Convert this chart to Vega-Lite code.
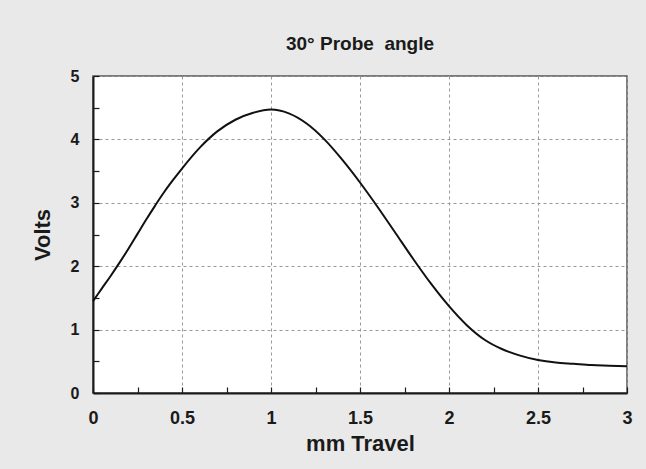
{
  "$schema": "https://vega.github.io/schema/vega-lite/v6.json",
  "autosize": "none",
  "width": 534,
  "height": 317,
  "padding": {"left": 93, "top": 76, "right": 19, "bottom": 76},
  "background": "#e8e9e8",
  "title": {
    "text": "30° Probe\u00a0\u00a0angle",
    "font": "Liberation Sans",
    "fontSize": 19,
    "fontWeight": "bold",
    "color": "#1a1a1a",
    "anchor": "middle",
    "offset": 14
  },
  "config": {
    "view": {"fill": "white", "stroke": "#555555", "strokeWidth": 1.5},
    "axis": {
      "labelFont": "Liberation Sans",
      "titleFont": "Liberation Sans",
      "labelFontWeight": "bold",
      "titleFontWeight": "bold",
      "labelColor": "#1a1a1a",
      "titleColor": "#1a1a1a",
      "domainColor": "#1a1a1a",
      "domainWidth": 2,
      "tickColor": "#1a1a1a",
      "tickWidth": 1.2,
      "gridColor": "#999999",
      "gridDash": [3, 3],
      "gridWidth": 1
    }
  },
  "data": {
    "values": [
      {"x": 0, "v": 1.45},
      {"x": 0.05, "v": 1.65},
      {"x": 0.1, "v": 1.85},
      {"x": 0.15, "v": 2.06},
      {"x": 0.2, "v": 2.28},
      {"x": 0.25, "v": 2.51},
      {"x": 0.3, "v": 2.74},
      {"x": 0.35, "v": 2.96},
      {"x": 0.4, "v": 3.17},
      {"x": 0.45, "v": 3.36},
      {"x": 0.5, "v": 3.54},
      {"x": 0.6, "v": 3.87},
      {"x": 0.7, "v": 4.13},
      {"x": 0.8, "v": 4.31},
      {"x": 0.9, "v": 4.42},
      {"x": 1.0, "v": 4.47},
      {"x": 1.1, "v": 4.41},
      {"x": 1.2, "v": 4.25},
      {"x": 1.3, "v": 4.0},
      {"x": 1.4, "v": 3.68},
      {"x": 1.5, "v": 3.32},
      {"x": 1.6, "v": 2.93},
      {"x": 1.7, "v": 2.52},
      {"x": 1.8, "v": 2.11},
      {"x": 1.9, "v": 1.72},
      {"x": 2.0, "v": 1.37},
      {"x": 2.1, "v": 1.07},
      {"x": 2.2, "v": 0.84},
      {"x": 2.3, "v": 0.69},
      {"x": 2.4, "v": 0.59},
      {"x": 2.5, "v": 0.52},
      {"x": 2.6, "v": 0.48},
      {"x": 2.7, "v": 0.46},
      {"x": 2.8, "v": 0.44},
      {"x": 2.9, "v": 0.43},
      {"x": 3.0, "v": 0.42}
    ]
  },
  "mark": {"type": "line", "color": "#111111", "strokeWidth": 2, "interpolate": "monotone"},
  "encoding": {
    "x": {
      "field": "x",
      "type": "quantitative",
      "scale": {"domain": [0, 3], "nice": false},
      "axis": {
        "title": "mm Travel",
        "titleFontSize": 22,
        "titlePadding": 6,
        "labelFontSize": 18,
        "values": [0, 0.25, 0.5, 0.75, 1, 1.25, 1.5, 1.75, 2, 2.25, 2.5, 2.75, 3],
        "labelExpr": "datum.value % 0.5 === 0 ? format(datum.value, '~g') : ''",
        "tickSize": -6,
        "labelPadding": 22,
        "labelFlush": false,
        "labelOverlap": false,
        "gridOpacity": {"condition": {"test": "datum.value % 0.5 === 0", "value": 1}, "value": 0}
      }
    },
    "y": {
      "field": "v",
      "type": "quantitative",
      "scale": {"domain": [0, 5], "nice": false},
      "axis": {
        "title": "Volts",
        "titleFontSize": 22,
        "titlePadding": 16,
        "labelFontSize": 16,
        "values": [0, 0.5, 1, 1.5, 2, 2.5, 3, 3.5, 4, 4.5, 5],
        "labelExpr": "datum.value % 1 === 0 ? format(datum.value, 'd') : ''",
        "tickSize": -6,
        "labelPadding": 20,
        "labelFlush": false,
        "labelOverlap": false,
        "gridOpacity": {"condition": {"test": "datum.value % 1 === 0", "value": 1}, "value": 0}
      }
    }
  }
}
